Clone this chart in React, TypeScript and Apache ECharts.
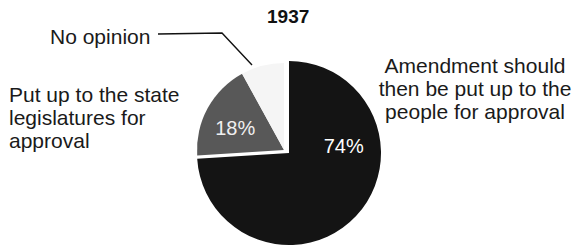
import React, { useEffect, useRef } from "react";
import * as echarts from "echarts";

const title = "1937";
const categories = [
  "Amendment should then be put up to the people for approval",
  "Put up to the state legislatures for approval",
  "No opinion",
];
const values = [74, 18, 8];
const labelLines = [
  ["Amendment should", "then be put up to the", "people for approval"],
  ["Put up to the state", "legislatures for", "approval"],
  ["No opinion"],
];
const colors = ["#141414", "#585858", "#f5f5f5"];

const FONT = "'Liberation Sans', Arial, Helvetica, sans-serif";

export default function App() {
  const ref = useRef<HTMLDivElement>(null);
  useEffect(() => {
    if (!ref.current) return;
    const chart = echarts.init(ref.current, null, { renderer: "svg" });
    const outer = values.map((v, i) => ({
      name: categories[i],
      value: v,
      itemStyle: { color: i === 0 ? colors[0] : "transparent" },
      label: {
        show: i === 0,
        position: "inside",
        formatter: `${v}%`,
        color: "#ffffff",
        fontSize: 20,
        fontFamily: FONT,
        offset: [19, -41],
      },
    }));
    const inner = values.map((v, i) => ({
      name: categories[i],
      value: v,
      itemStyle: { color: i === 0 ? "transparent" : colors[i] },
      label: {
        show: i === 1,
        position: "inside",
        formatter: `${v}%`,
        color: "#f0f0f0",
        fontSize: 20,
        fontFamily: FONT,
        offset: [-8, 0],
      },
    }));
    chart.setOption({
      animation: false,
      backgroundColor: "#ffffff",
      series: [
        {
          type: "pie",
          center: [289, 153],
          radius: [0, 92],
          startAngle: 90,
          clockwise: true,
          silent: true,
          labelLine: { show: false },
          data: outer,
        },
        {
          type: "pie",
          center: [284, 150],
          radius: [0, 87],
          startAngle: 90,
          clockwise: true,
          silent: true,
          labelLine: { show: false },
          data: inner,
        },
      ],
      graphic: [
        {
          type: "text",
          left: 267,
          top: 7,
          style: {
            text: title,
            font: `bold 19px ${FONT}`,
            fill: "#111",
          },
        },
        {
          type: "text",
          x: 475,
          y: 54,
          style: {
            text: labelLines[0].join("\n"),
            font: `21px ${FONT}`,
            lineHeight: 23,
            align: "center",
            verticalAlign: "top",
            fill: "#1a1a1a",
          },
        },
        {
          type: "text",
          x: 9,
          y: 83,
          style: {
            text: labelLines[1].join("\n"),
            font: `21px ${FONT}`,
            lineHeight: 23,
            align: "left",
            verticalAlign: "top",
            fill: "#1a1a1a",
          },
        },
        {
          type: "text",
          x: 50,
          y: 25,
          style: {
            text: labelLines[2].join("\n"),
            font: `21px ${FONT}`,
            lineHeight: 23,
            align: "left",
            verticalAlign: "top",
            fill: "#1a1a1a",
          },
        },
        {
          type: "polyline",
          shape: {
            points: [
              [158, 34],
              [222, 33],
              [252, 65],
            ],
          },
          style: { stroke: "#111", lineWidth: 1.4, fill: null },
        },
      ],
    });
    return () => chart.dispose();
  }, []);
  return (
    <div
      ref={ref}
      style={{ position: "fixed", left: 0, top: 0, width: 577, height: 246 }}
    />
  );
}
